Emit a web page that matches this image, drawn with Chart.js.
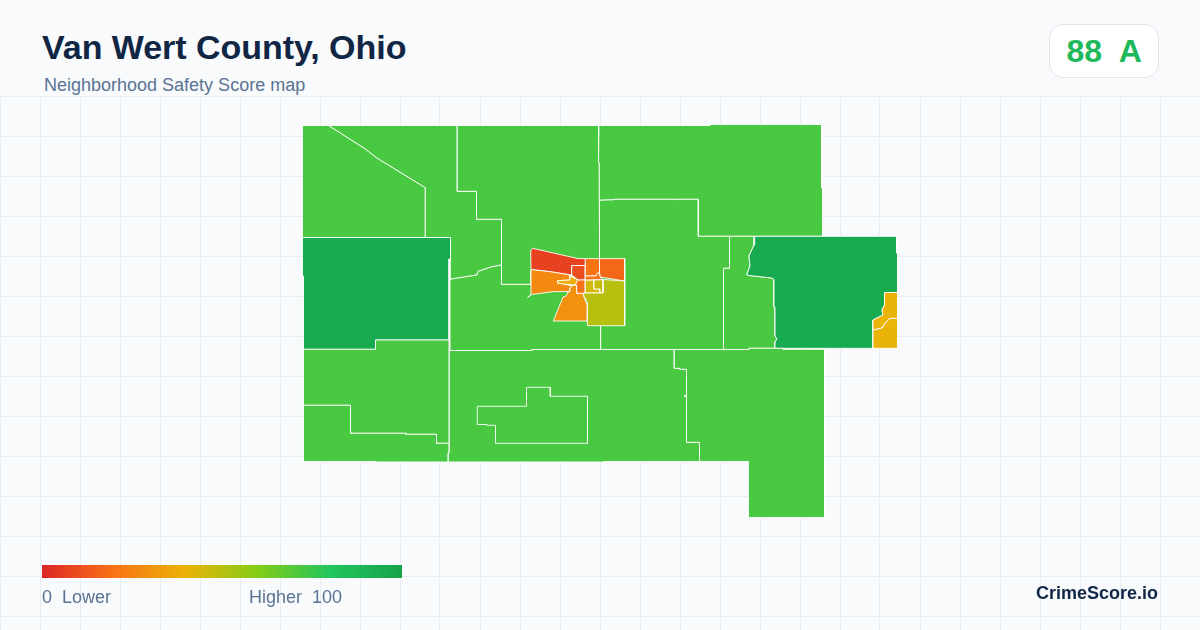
<!DOCTYPE html>
<html>
<head>
<meta charset="utf-8">
<title>Van Wert County, Ohio</title>
<script src="https://cdn.jsdelivr.net/npm/chart.js@4"></script>
<style>
  html, body { margin: 0; padding: 0; }
  body { width: 1200px; height: 630px; position: relative; overflow: hidden; background: #f8fafc; font-family: "Liberation Sans", Arial, sans-serif; }
  #map { position: absolute; left: 0; top: 96px; width: 1200px; height: 534px; }
  .txt { position: absolute; white-space: pre; line-height: 1; }
  #title { left: 42px; top: 30px; font-size: 34px; font-weight: 700; color: #102644; letter-spacing: -0.04px; }
  #sub { left: 44px; top: 76px; font-size: 18px; color: #5a7394; }
  #badge { position: absolute; left: 1049px; top: 24px; width: 108px; height: 52px; background: #fff; border: 1px solid #dfe6ef; border-radius: 14px; }
  #grade { left: 1066.5px; top: 35px; font-size: 32px; font-weight: 700; color: #1fb85a; }
  #bar { position: absolute; left: 42px; top: 565px; width: 360px; height: 13px; background: linear-gradient(90deg, #dc2626 0%, #f97316 20%, #eab308 40%, #84cc16 60%, #22c55e 80%, #16a34a 100%); }
  #low { left: 42px; top: 588px; font-size: 18px; color: #5a7394; }
  #high { left: 249px; top: 588px; font-size: 18px; color: #5a7394; }
  #brand { right: 42px; top: 584px; font-size: 18px; font-weight: 700; color: #102644; }
</style>
</head>
<body>
<canvas id="map" width="1200" height="534"></canvas>
<div class="txt" id="title">Van Wert County, Ohio</div>
<div class="txt" id="sub">Neighborhood Safety Score map</div>
<div id="badge"></div>
<div class="txt" id="grade">88  A</div>
<div id="bar"></div>
<div class="txt" id="low">0  Lower</div>
<div class="txt" id="high">Higher  100</div>
<div class="txt" id="brand">CrimeScore.io</div>
<script>
// tract outlines in map units, scores
const northwest = [[302.5,125.5],[328.5,125.5],[364,148],[377,158],[425.4,187.7],[425.4,237.5],[302.5,237.5]];
const northMidWest = [[328.5,125.5],[457.3,125.5],[457.3,191.3],[476.5,191.3],[476.5,219.3],[501.5,219.3],[501.5,265],[491,267],[478,271.5],[477,275],[450,279.3],[450,258],[450.5,258],[450.5,237.5],[425.4,237.5],[425.4,187.7],[377,158],[364,148]];
const westDark = [[302.5,237.5],[450.5,237.5],[450.5,259],[449,259],[449,340],[375.5,340],[375.5,349.3],[303.5,349.3],[303.5,276],[302.5,276]];
const centerWest = [[450,279.3],[477,275],[478,271.5],[491,267],[501.5,265],[501.5,284.3],[600.7,284.3],[600.7,349.5],[532,349.5],[532,350.5],[450,350.5]];
const northMid = [[457.3,125.5],[598.5,125.5],[598.5,162],[599.3,163],[599.5,270],[531,270],[531,284.3],[501.5,284.3],[501.5,219.3],[476.5,219.3],[476.5,191.3],[457.3,191.3]];
const northEast = [[599,125.5],[710,125.5],[710,124.5],[821.5,124.5],[821.5,188],[822.5,188],[822.5,236.3],[698.3,236.3],[698.3,199.3],[675,199.3],[674,200],[673,199.3],[614,199.3],[614,199.8],[599.5,200.3],[599.3,163],[598.5,162]];
const centerEast = [[599.5,200.3],[614,199.8],[614,199.3],[673,199.3],[674,200],[675,199.3],[698.3,199.3],[698.3,236.3],[729.5,236.3],[729.5,268.3],[723.5,268.3],[723.5,349.5],[600.7,349.5],[600.7,320],[599.5,320]];
const eastMid = [[729.5,236.3],[754.7,236.3],[754,245],[749,256],[750,266],[746.7,274.5],[749,275.5],[772,278],[774,279.5],[774,307],[775,307],[775,336],[777,339],[775,342],[775,348.3],[749,348.3],[749,349.5],[723.5,349.5],[723.5,268.3],[729.5,268.3]];
const eastDark = [[754.7,236.3],[896.5,236.3],[896.5,253],[897.5,253],[897.5,292.5],[884.5,292.5],[884.5,305],[882,310],[883,315],[873,320],[873,348.3],[775,348.3],[775,342],[777,339],[775,336],[775,307],[774,307],[774,279.5],[772,278],[749,275.5],[746.7,274.5],[750,266],[749,256],[754,245]];
const eastAmberUpper = [[884.5,292.5],[897.5,292.5],[897.5,318.3],[890,318.5],[886,322],[882,328],[873,330],[873,320],[883,315],[882,310],[884.5,305]];
const eastAmberLower = [[873,330],[882,328],[886,322],[890,318.5],[897.5,318.3],[897.5,348.3],[873,348.3]];
const southwestUpper = [[303.5,349.3],[375.5,349.3],[375.5,340],[449.3,340],[449.3,443.3],[436.5,443.3],[436.5,434.3],[406,434.3],[406,433.3],[350.5,433.3],[350.5,405.3],[303.5,405.3]];
const southwestLower = [[303.5,405.3],[350.5,405.3],[350.5,433.3],[406,433.3],[406,434.3],[436.5,434.3],[436.5,443.3],[449.3,443.3],[449.3,453],[448.3,453],[448.3,462],[376,462],[376,461.5],[303.5,461.5]];
const southMid = [[449.3,350.5],[532,350.5],[532,349.5],[674.3,349.5],[674.3,368.3],[680,368.3],[680,369.3],[686.5,369.3],[686.5,395.7],[684,396],[686.5,396.5],[686.5,442.3],[699.5,442.3],[699.5,461.5],[604,461.5],[604,462],[448.3,462],[448.3,453],[449.3,453]];
const southIsland = [[477.3,406.3],[526.5,406.3],[526.5,387.3],[550.3,387.3],[550.3,396.3],[587.5,396.3],[587.5,443.3],[495.5,443.3],[495.5,425.3],[487,425.3],[487,424.5],[477.3,424.5]];
const southEast = [[674.3,349.5],[749,349.5],[749,348.3],[783,348.3],[783,349.3],[824.5,349.3],[824.5,517.5],[748.5,517.5],[748.5,461.5],[699.5,461.5],[699.5,442.3],[686.5,442.3],[686.5,396.5],[684,396],[686.5,395.7],[686.5,369.3],[680,369.3],[680,368.3],[674.3,368.3]];
const cityNorthWest = [[532.7,248.3],[530.7,251],[531,269.5],[550,271.7],[568,274.5],[571.7,275],[571.7,265.5],[585.3,265.5],[585.3,258.6],[578,258.6]];
const cityNorthBox = [[571.7,265.5],[585.3,265.5],[585.3,280],[578,280],[571.7,275]];
const cityNorthEastA = [[585.3,258.6],[599.5,258.6],[599.5,273],[597.7,273],[596,276],[585.3,276]];
const cityNorthEastB = [[599.5,258.6],[624.7,258.6],[624.7,281],[600,277],[599.5,273]];
const cityWest = [[531,269.5],[550,271.7],[568,274.5],[570,276],[570,280],[557.5,280.7],[557.5,283],[563.3,284],[572,286],[570,288],[570,291.5],[553,291.7],[531.5,294.5],[527.5,297.5],[531,294.5]];
const citySliver = [[570,276],[578,280],[575,285],[563.3,284],[557.5,283],[557.5,280.7],[570,280]];
const citySouth = [[553.3,321],[561,302],[563,297],[566,296],[568,292],[570,291.5],[570,288],[572,286],[575,285],[576.7,285],[576.7,293.3],[582.7,293.3],[585,300],[587.3,305],[587.3,321]];
const cityCenter = [[578,280],[585.3,280],[585.3,293.3],[576.7,293.3],[576.7,285],[575,285]];
const citySouthEast = [[603,279.5],[624.7,281],[624.7,325.7],[587.5,325.7],[587.5,303],[583.5,295],[584,292.8],[603,292.8]];
const cityBoxA = [[585.3,280],[594,280],[594,289],[600,289],[600,292.8],[585.3,292.8]];
const cityBoxB = [[594,280],[603,279.5],[603,292.8],[600,292.8],[600,289],[594,289]];
const cityGap = [[585.3,276],[596,276],[597.7,273],[599.5,273],[600,277],[603,279.5],[585.3,280]];

const tractShapes = [northwest, northMidWest, westDark, centerWest, northMid, northEast, centerEast, eastMid, eastDark, eastAmberUpper, eastAmberLower, southwestUpper, southwestLower, southMid, southIsland, southEast, cityNorthWest, cityNorthBox, cityNorthEastA, cityNorthEastB, cityWest, citySliver, citySouth, cityCenter, citySouthEast, cityBoxA, cityBoxB, cityGap];
const tractScores = [72, 72, 96, 72, 72, 72, 72, 72, 96, 40, 40, 72, 72, 72, 72, 72, 7, 10, 20, 17, 27, 38, 29, 20, 50, 44, 47, 20];

// y positions of the faint grid rows
const gridRows = [96, 136, 176, 216, 256, 296, 336, 376, 416, 456, 496, 536, 576, 616];

// same stops as the legend bar
const rampStops = [[0, [220,38,38]], [20, [249,115,22]], [40, [234,179,8]], [60, [132,204,22]], [80, [34,197,94]], [100, [22,163,74]]];

function scoreColor(score) {
    for (var i = 1; i < rampStops.length; i++) {
        if (score <= rampStops[i][0]) {
            var a = rampStops[i - 1], b = rampStops[i];
            var t = (score - a[0]) / (b[0] - a[0]);
            var rgb = a[1].map(function (v, k) { return Math.round(v + (b[1][k] - v) * t); });
            return 'rgb(' + rgb.join(',') + ')';
        }
    }
    return 'rgb(22,163,74)';
}

var datasets = tractShapes.map(function (shape, i) {
    var pts = shape.concat([shape[0]]).map(function (p) { return { x: p[0], y: p[1] }; }); // close the ring
    return {
        data: pts,
        order: tractShapes.length - i, // later tracts paint on top
        showLine: true,
        fill: 'shape',
        backgroundColor: scoreColor(tractScores[i]),
        borderColor: '#ffffff',
        borderWidth: 0.9,
        pointRadius: 0,
        tension: 0
    };
});

new Chart(document.getElementById('map'), {
    type: 'scatter',
    data: { datasets: datasets },
    options: {
        responsive: false,
        animation: false,
        devicePixelRatio: 1,
        layout: { padding: 0 },
        plugins: { legend: { display: false }, tooltip: { enabled: false } },
        scales: {
            x: {
                type: 'linear', min: 0, max: 1200,
                ticks: { display: false, stepSize: 40 },
                grid: { color: '#e7eef3', drawTicks: false },
                border: { display: false }
            },
            y: {
                type: 'linear', reverse: true, min: 96, max: 630,
                afterBuildTicks: function (axis) { axis.ticks = gridRows.map(function (v) { return { value: v }; }); },
                ticks: { display: false },
                grid: { color: '#e7eef3', drawTicks: false },
                border: { display: false }
            }
        }
    }
});
</script>
</body>
</html>
